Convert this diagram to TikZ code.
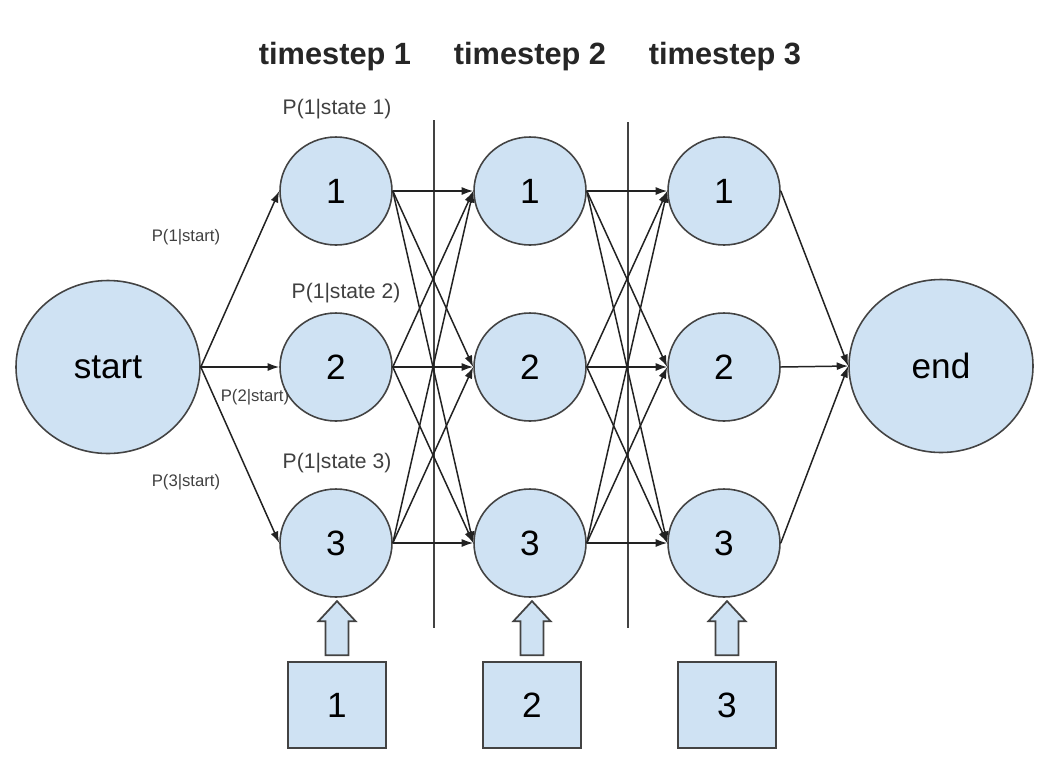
\documentclass[tikz,border=0pt]{standalone}
\usepackage{fontspec}
\setmainfont{Liberation Sans}
\usepackage{tikz}
\usetikzlibrary{shapes.geometric,arrows.meta,positioning,calc}
\usepackage{xcolor}
\definecolor{statefill}{HTML}{CFE2F3}
\definecolor{stateline}{HTML}{434343}
\definecolor{edgeline}{HTML}{222222}

\begin{document}
\begin{tikzpicture}[
    state/.style={ellipse, draw=stateline, line width=0.9pt, fill=statefill,
        minimum width=2.24cm, minimum height=2.16cm, inner sep=0pt,
        font=\fontsize{20}{24}\selectfont},
    endpoint/.style={state, minimum width=3.68cm, minimum height=3.46cm},
    obs/.style={rectangle, draw=stateline, line width=1pt, fill=statefill,
        minimum width=1.96cm, minimum height=1.72cm, inner sep=0pt,
        font=\fontsize{20}{24}\selectfont},
    blockarr/.style={draw=stateline, line width=1pt, fill=statefill},
    arr/.style={-{Latex[length=2.3mm, width=1.6mm]}, line width=0.85pt, edgeline},
    sep/.style={line width=0.7pt, stateline},
    head/.style={font=\fontsize{17.5}{20}\selectfont\bfseries, text=black!85},
    prob/.style={font=\fontsize{12}{14}\selectfont, text=black!75},
    small/.style={font=\fontsize{9.5}{11}\selectfont, text=black!75}
]
    \useasboundingbox (0,0) rectangle (21.16,-15.32);

    % begin and end
    \node[endpoint] (start) at (2.16,-7.34) {start};
    \node[endpoint] (end) at (18.82,-7.32) {end};

    % hidden states per timestep
    \node[state] (s11) at (6.72,-3.82) {1};
    \node[state] (s12) at (6.72,-7.34) {2};
    \node[state] (s13) at (6.72,-10.86) {3};
    \node[state] (s21) at (10.6,-3.82) {1};
    \node[state] (s22) at (10.6,-7.34) {2};
    \node[state] (s23) at (10.6,-10.86) {3};
    \node[state] (s31) at (14.48,-3.82) {1};
    \node[state] (s32) at (14.48,-7.34) {2};
    \node[state] (s33) at (14.48,-10.86) {3};

    % observations
    \node[obs] (o1) at (6.74,-14.1) {1};
    \node[obs] (o2) at (10.64,-14.1) {2};
    \node[obs] (o3) at (14.54,-14.1) {3};

    % headers
    \node[head] (t1) at (6.7,-1.14) {timestep 1};
    \node[head] (t2) at (10.6,-1.14) {timestep 2};
    \node[head] (t3) at (14.5,-1.14) {timestep 3};

    % timestep separators
    \draw[sep] (8.68,-2.4) -- (8.68,-12.56);
    \draw[sep] (12.56,-2.44) -- (12.56,-12.56);

    % probability labels
    \node[prob] (ps1) at (6.74,-2.18) {P(1|state 1)};
    \node[prob] (ps2) at (6.92,-5.86) {P(1|state 2)};
    \node[prob] (ps3) at (6.74,-9.26) {P(1|state 3)};
    \node[small] (pa1) at (3.72,-4.74) {P(1|start)};
    \node[small] (pa2) at (5.1,-7.94) {P(2|start)};
    \node[small] (pa3) at (3.72,-9.64) {P(3|start)};

    % start transitions
    \draw[arr] (start.east) -- (s11.west);
    \draw[arr] (start.east) -- (s12.west);
    \draw[arr] (start.east) -- (s13.west);

    % transitions between timesteps
    \foreach \a/\b in {1/2, 2/3}
        \foreach \i in {1,2,3}
            \foreach \j in {1,2,3}
                \draw[arr] (s\a\i.east) -- (s\b\j.west);

    % end transitions
    \draw[arr] (s31.east) -- (end.west);
    \draw[arr] (s32.east) -- (end.west);
    \draw[arr] (s33.east) -- (end.west);

    % emission block arrows
    \foreach \k in {1,2,3}
        \draw[blockarr] (o\k.north) ++(-0.23,0.12) -- ++(0,0.68) -- ++(-0.14,0)
            -- ++(0.37,0.4) -- ++(0.37,-0.4) -- ++(-0.14,0) -- ++(0,-0.68) -- cycle;
\end{tikzpicture}
\end{document}
